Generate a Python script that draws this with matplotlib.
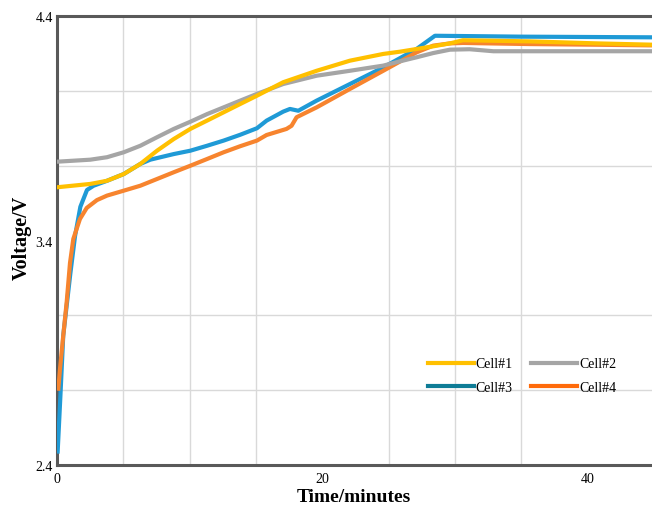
import matplotlib
matplotlib.use("Agg")
import matplotlib.pyplot as plt
from matplotlib.lines import Line2D
import numpy as np

# ---------------------------------------------------------------------------
# Data
# ---------------------------------------------------------------------------

cell1_t = [0, 2.51, 3.77, 5.03, 6.28, 7.54, 8.8, 10.05, 11.31, 12.56, 13.81,
           15.07, 17.05, 19.57, 22.08, 24.59, 25.85, 27.1, 28.36, 29.62, 30.6,
           35.6, 40.7, 45]
cell1_v = [3.637, 3.652, 3.666, 3.696, 3.741, 3.800, 3.852, 3.897, 3.934, 3.971,
           4.008, 4.045, 4.105, 4.156, 4.201, 4.231, 4.241, 4.253, 4.265, 4.278,
           4.292, 4.287, 4.278, 4.272]

cell2_t = [0, 2.51, 3.77, 5.03, 6.28, 7.54, 8.8, 10.05, 11.31, 12.56, 13.81,
           15.07, 17.05, 19.57, 22.08, 24.59, 25.85, 27.1, 28.36, 29.62, 31.1,
           32.9, 45]
cell2_v = [3.751, 3.760, 3.771, 3.793, 3.822, 3.860, 3.897, 3.929, 3.963, 3.993,
           4.023, 4.053, 4.097, 4.134, 4.156, 4.179, 4.198, 4.216, 4.235, 4.250,
           4.252, 4.243, 4.243]

cell3_t = [0.05, 0.25, 0.47, 1.0, 1.36, 1.76, 2.26, 2.76, 3.77, 5.03, 6.28, 7.03,
           8.8, 10.05, 11.31, 12.56, 13.81, 15.07, 15.8, 17.05, 17.56, 18.19,
           19.57, 22.08, 24.59, 27.1, 28.49, 35, 45]
cell3_v = [2.46, 2.70, 2.976, 3.25, 3.42, 3.55, 3.625, 3.644, 3.666, 3.696, 3.741,
           3.760, 3.785, 3.800, 3.822, 3.845, 3.871, 3.900, 3.934, 3.974, 3.986,
           3.978, 4.023, 4.097, 4.171, 4.253, 4.312, 4.308, 4.305]

cell4_t = [0.1, 0.23, 0.47, 0.73, 0.98, 1.23, 1.73, 2.24, 3.01, 3.77, 5.03, 6.28,
           7.54, 8.8, 10.05, 11.31, 12.56, 13.81, 15.07, 15.8, 17.3, 17.68, 18.06,
           19.57, 22.08, 24.59, 27.1, 28.36, 29.62, 30.6, 35.6, 40.7, 45]
cell4_v = [2.74, 2.83, 2.976, 3.126, 3.30, 3.407, 3.496, 3.545, 3.58, 3.600,
           3.622, 3.644, 3.674, 3.704, 3.733, 3.763, 3.793, 3.820, 3.845, 3.870,
           3.897, 3.911, 3.949, 3.993, 4.075, 4.156, 4.238, 4.268, 4.278, 4.280,
           4.275, 4.272, 4.269]

labels = ["Cell#1", "Cell#2", "Cell#3", "Cell#4"]
line_colors = ["#FFC000", "#A5A5A5", "#1F9AD6", "#F7842E"]
legend_colors = ["#FFC000", "#A5A5A5", "#0E7C96", "#FF6A0A"]

x_ticks = [0, 20, 40]
y_ticks = [2.4, 3.4, 4.4]

# ---------------------------------------------------------------------------
# Plot
# ---------------------------------------------------------------------------

plt.rcParams["font.family"] = ["Liberation Serif", "DejaVu Serif"]

W, H = 652, 506
fig = plt.figure(figsize=(W / 100, H / 100), dpi=100)
ax = fig.add_axes([57 / W, (H - 466) / H, (654 - 57) / W, (466 - 17) / H])

series = [(cell1_t, cell1_v), (cell2_t, cell2_v), (cell3_t, cell3_v), (cell4_t, cell4_v)]
# draw blue/orange first so yellow/gray sit on top where they overlap
order = [2, 3, 1, 0]
for i in order:
    t, v = series[i]
    ax.plot(t, v, color=line_colors[i], lw=3.0, solid_joinstyle="round", zorder=3)

ax.set_xlim(0, 45)
ax.set_ylim(2.4, 4.4)
ax.set_xticks(x_ticks)
ax.set_yticks(y_ticks)
ax.set_xticks(np.arange(0, 46, 5), minor=True)
ax.set_yticks(np.linspace(2.4, 4.4, 7), minor=True)
ax.grid(True, which="minor", color="#D9D9D9", lw=1.0, zorder=0)
ax.tick_params(which="both", length=0)
ax.tick_params(axis="x", pad=5, labelsize=10)
ax.tick_params(axis="y", pad=3, labelsize=10)
ax.set_yticklabels([f"{y:.1f}" for y in y_ticks])

for side in ["left", "bottom", "top"]:
    ax.spines[side].set_color("#595959")
    ax.spines[side].set_linewidth(2.2)
ax.spines["right"].set_visible(False)

fig.text(354 / W, 1 - 498 / H, "Time/minutes", fontsize=14, fontweight="bold",
         ha="center", va="center")
fig.text(22 / W, 1 - 238 / H, "Voltage/V", fontsize=14.5, fontweight="bold",
         ha="center", va="center", rotation=90)

# legend fills column-wise, so order handles to get Cell#1 Cell#2 on row one
idx = [0, 2, 1, 3]
handles = [Line2D([], [], color=legend_colors[i], lw=3.0) for i in idx]
ax.legend(handles, [labels[i] for i in idx], ncol=2, frameon=False, fontsize=10,
          loc="upper left", bbox_to_anchor=(0.612, 0.252),
          handlelength=3.3, handletextpad=0.15, columnspacing=1.3,
          labelspacing=0.75, borderaxespad=0)

fig.savefig("out.png", dpi=100)
